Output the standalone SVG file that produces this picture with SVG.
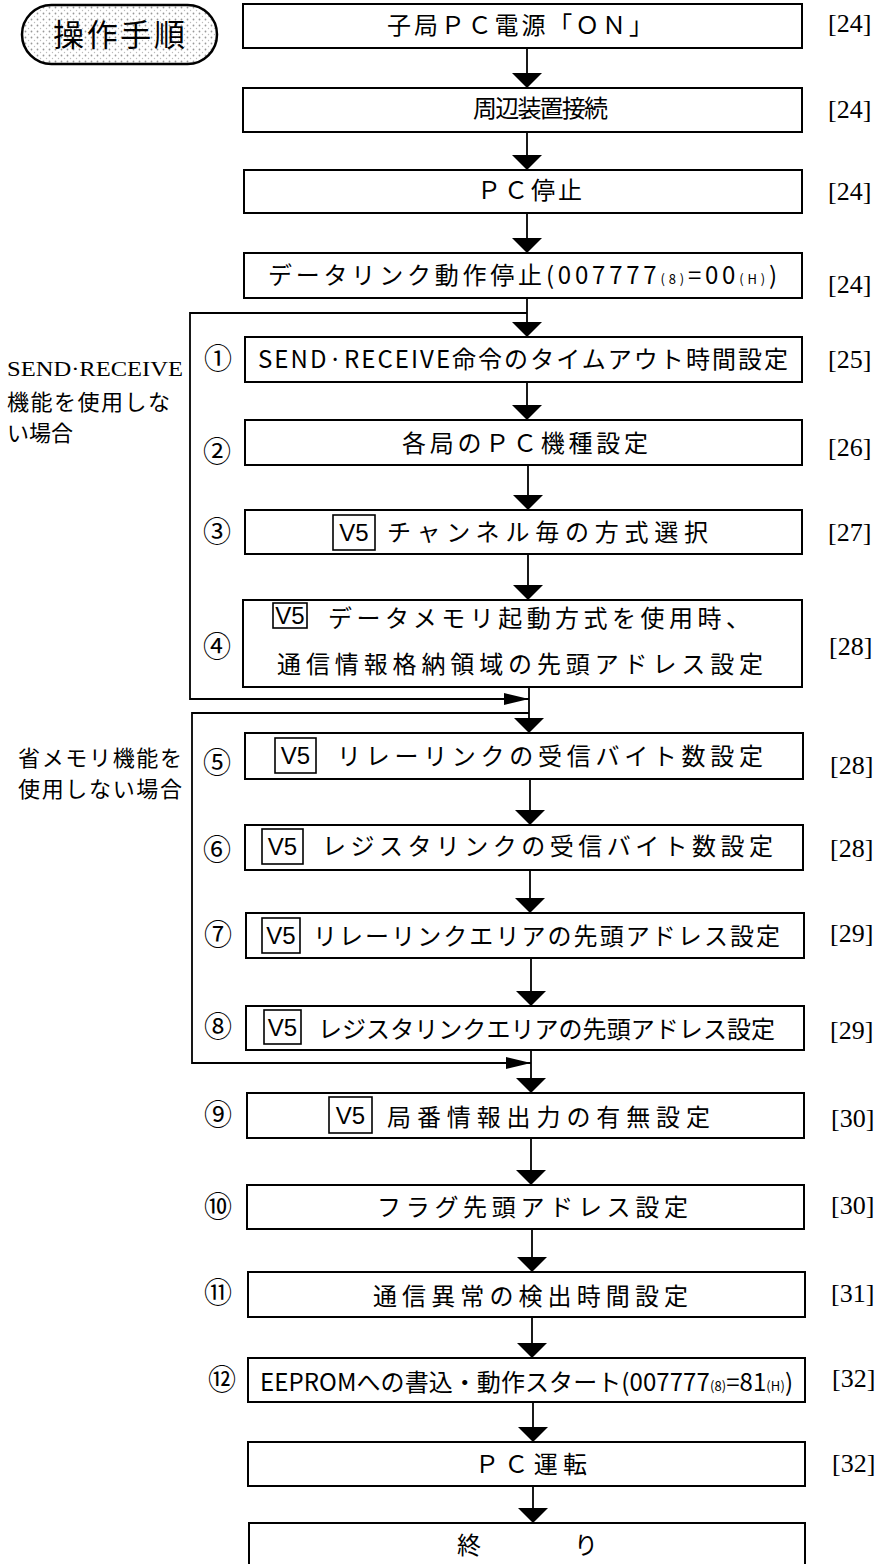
<svg xmlns="http://www.w3.org/2000/svg" width="881" height="1564" viewBox="0 0 881 1564">
<style>
.box{fill:#fff;stroke:#000;stroke-width:2}
.v5{fill:none;stroke:#000;stroke-width:1.6}
.t{font-family:"Noto Sans CJK JP","Noto Sans",sans-serif;font-size:24px;fill:#000}
.sub{font-size:13px}
.ref{font-family:"Liberation Serif","Noto Sans CJK JP",serif;font-size:26px;fill:#000}
.num{font-family:"Noto Sans CJK JP",serif;font-size:28px;fill:#000;text-anchor:middle}
.side{font-family:"Liberation Serif","Noto Sans CJK JP",serif;font-size:22px;fill:#000}
.v5t{font-family:"Liberation Sans",sans-serif;font-size:24px;fill:#000;text-anchor:middle}
.c{fill:none;stroke:#000;stroke-width:1.8}
</style>
<defs>
<marker id="ah" markerUnits="userSpaceOnUse" markerWidth="15" markerHeight="30" refX="15" refY="15" orient="auto" viewBox="0 0 15 30"><path d="M0,0 L15,15 L0,30 z" fill="#000"/></marker>
<marker id="ahs" markerUnits="userSpaceOnUse" markerWidth="25" markerHeight="12" refX="25" refY="6" orient="auto" viewBox="0 0 25 12"><path d="M0,0 L25,6 L0,12 z" fill="#000"/></marker>
<pattern id="dots" width="6" height="6" patternUnits="userSpaceOnUse"><rect width="6" height="6" fill="#fff"/><circle cx="1.5" cy="1.5" r="0.9" fill="#999"/><circle cx="4.5" cy="4.5" r="0.7" fill="#bbb"/></pattern>
</defs>

<g id="title">
<rect x="22" y="5" width="195" height="59" rx="29.5" fill="url(#dots)" stroke="#000" stroke-width="2.5"/>
<text x="119" y="46" font-family="Noto Sans CJK JP, sans-serif" font-size="31" text-anchor="middle" textLength="132" lengthAdjust="spacing">操作手順</text>
</g>

<g id="connectors">
<path class="c" d="M527,48 V88" marker-end="url(#ah)"/>
<path class="c" d="M527,132 V170" marker-end="url(#ah)"/>
<path class="c" d="M527,213 V253" marker-end="url(#ah)"/>
<path class="c" d="M527,298 V337" marker-end="url(#ah)"/>
<path class="c" d="M527,382 V420" marker-end="url(#ah)"/>
<path class="c" d="M528,465 V510" marker-end="url(#ah)"/>
<path class="c" d="M528,554 V600" marker-end="url(#ah)"/>
<path class="c" d="M529,687 V733" marker-end="url(#ah)"/>
<path class="c" d="M530,779 V825" marker-end="url(#ah)"/>
<path class="c" d="M530,870 V913" marker-end="url(#ah)"/>
<path class="c" d="M531,958 V1006" marker-end="url(#ah)"/>
<path class="c" d="M531,1050 V1093" marker-end="url(#ah)"/>
<path class="c" d="M531,1138 V1185" marker-end="url(#ah)"/>
<path class="c" d="M532,1229 V1272" marker-end="url(#ah)"/>
<path class="c" d="M532,1317 V1358" marker-end="url(#ah)"/>
<path class="c" d="M533,1402 V1442" marker-end="url(#ah)"/>
<path class="c" d="M533,1486 V1523" marker-end="url(#ah)"/>
<path class="c" d="M527,313 H190 V699 H529" marker-end="url(#ahs)"/>
<path class="c" d="M529,713 H192 V1063 H531" marker-end="url(#ahs)"/>
</g>

<g id="side-labels">
<text class="side" x="7" y="376" textLength="176" lengthAdjust="spacingAndGlyphs">SEND·RECEIVE</text>
<text class="side" x="7" y="410" textLength="163" lengthAdjust="spacing">機能を使用しな</text>
<text class="side" x="7" y="441">い場合</text>
<text class="side" x="18" y="766" textLength="164" lengthAdjust="spacing">省メモリ機能を</text>
<text class="side" x="18" y="797" textLength="164" lengthAdjust="spacing">使用しない場合</text>
</g>

<g id="n-power">
<rect class="box" x="243" y="4" width="559" height="44"/>
<text class="t" x="387" y="34" textLength="266" lengthAdjust="spacing">子局ＰＣ電源「ＯＮ」</text>
<text class="ref" x="828" y="32">[24]</text>
</g>
<g id="n-periph">
<rect class="box" x="243" y="88" width="559" height="44"/>
<text class="t" x="473" y="117" font-size="23" textLength="135" lengthAdjust="spacing">周辺装置接続</text>
<text class="ref" x="828" y="118">[24]</text>
</g>
<g id="n-pcstop">
<rect class="box" x="244" y="170" width="558" height="43"/>
<text class="t" x="477" y="199" textLength="105" lengthAdjust="spacing">ＰＣ停止</text>
<text class="ref" x="828" y="200">[24]</text>
</g>
<g id="n-dlstop">
<rect class="box" x="244" y="253" width="558" height="45"/>
<text class="t" x="268" y="284" textLength="509" lengthAdjust="spacing">データリンク動作停止(007777<tspan class="sub">(8)</tspan>=00<tspan class="sub">(H)</tspan>)</text>
<text class="ref" x="828" y="293">[24]</text>
</g>
<g id="n1">
<rect class="box" x="245" y="337" width="557" height="45"/>
<text class="num" x="218" y="369">①</text>
<text class="t" x="258" y="368" textLength="530" lengthAdjust="spacing">SEND·RECEIVE命令のタイムアウト時間設定</text>
<text class="ref" x="828" y="368">[25]</text>
</g>
<g id="n2">
<rect class="box" x="245" y="420" width="557" height="45"/>
<text class="num" x="217" y="462">②</text>
<text class="t" x="402" y="452" textLength="246" lengthAdjust="spacing">各局のＰＣ機種設定</text>
<text class="ref" x="828" y="456">[26]</text>
</g>
<g id="n3">
<rect class="box" x="245" y="510" width="557" height="44"/>
<text class="num" x="217" y="542">③</text>
<rect class="v5" x="333" y="515" width="42" height="35"/>
<text class="v5t" x="354" y="541">V5</text>
<text class="t" x="387" y="541" textLength="321" lengthAdjust="spacing">チャンネル毎の方式選択</text>
<text class="ref" x="828" y="541">[27]</text>
</g>
<g id="n4">
<rect class="box" x="243" y="600" width="559" height="87"/>
<text class="num" x="217" y="657">④</text>
<rect class="v5" x="273" y="603" width="34" height="25"/>
<text class="v5t" x="290" y="624">V5</text>
<text class="t" x="328" y="627" textLength="422" lengthAdjust="spacing">データメモリ起動方式を使用時、</text>
<text class="t" x="277" y="673" textLength="486" lengthAdjust="spacing">通信情報格納領域の先頭アドレス設定</text>
<text class="ref" x="829" y="655">[28]</text>
</g>
<g id="n5">
<rect class="box" x="245" y="733" width="558" height="46"/>
<text class="num" x="217" y="773">⑤</text>
<rect class="v5" x="275" y="738" width="41" height="35"/>
<text class="v5t" x="295.5" y="764">V5</text>
<text class="t" x="337" y="765" textLength="426" lengthAdjust="spacing">リレーリンクの受信バイト数設定</text>
<text class="ref" x="830" y="774">[28]</text>
</g>
<g id="n6">
<rect class="box" x="245" y="825" width="558" height="45"/>
<text class="num" x="217" y="860">⑥</text>
<rect class="v5" x="262" y="829" width="41" height="35"/>
<text class="v5t" x="282.5" y="855">V5</text>
<text class="t" x="322" y="855" textLength="451" lengthAdjust="spacing">レジスタリンクの受信バイト数設定</text>
<text class="ref" x="830" y="857">[28]</text>
</g>
<g id="n7">
<rect class="box" x="246" y="913" width="558" height="45"/>
<text class="num" x="218" y="945">⑦</text>
<rect class="v5" x="262" y="918" width="38" height="35"/>
<text class="v5t" x="281" y="944">V5</text>
<text class="t" x="313" y="945" textLength="467" lengthAdjust="spacing">リレーリンクエリアの先頭アドレス設定</text>
<text class="ref" x="830" y="942">[29]</text>
</g>
<g id="n8">
<rect class="box" x="246" y="1006" width="558" height="44"/>
<text class="num" x="218" y="1037">⑧</text>
<rect class="v5" x="264" y="1010" width="37" height="34"/>
<text class="v5t" x="282.5" y="1036">V5</text>
<text class="t" x="318" y="1038" textLength="457" lengthAdjust="spacing">レジスタリンクエリアの先頭アドレス設定</text>
<text class="ref" x="830" y="1039">[29]</text>
</g>
<g id="n9">
<rect class="box" x="247" y="1093" width="557" height="45"/>
<text class="num" x="218" y="1125">⑨</text>
<rect class="v5" x="329" y="1097" width="43" height="36"/>
<text class="v5t" x="350.5" y="1124">V5</text>
<text class="t" x="387" y="1126" textLength="323" lengthAdjust="spacing">局番情報出力の有無設定</text>
<text class="ref" x="831" y="1127">[30]</text>
</g>
<g id="n10">
<rect class="box" x="247" y="1185" width="557" height="44"/>
<text class="num" x="218" y="1217">⑩</text>
<text class="t" x="377" y="1216" textLength="311" lengthAdjust="spacing">フラグ先頭アドレス設定</text>
<text class="ref" x="831" y="1214">[30]</text>
</g>
<g id="n11">
<rect class="box" x="248" y="1272" width="557" height="45"/>
<text class="num" x="218" y="1303">⑪</text>
<text class="t" x="373" y="1305" textLength="315" lengthAdjust="spacing">通信異常の検出時間設定</text>
<text class="ref" x="831" y="1302">[31]</text>
</g>
<g id="n12">
<rect class="box" x="248" y="1358" width="557" height="44"/>
<text class="num" x="222" y="1390">⑫</text>
<text class="t" x="260" y="1391" textLength="533" lengthAdjust="spacing">EEPROMへの書込・動作スタート(007777<tspan class="sub">(8)</tspan>=81<tspan class="sub">(H)</tspan>)</text>
<text class="ref" x="832" y="1387">[32]</text>
</g>
<g id="n-pcrun">
<rect class="box" x="248" y="1442" width="557" height="44"/>
<text class="t" x="475" y="1473" textLength="112" lengthAdjust="spacing">ＰＣ運転</text>
<text class="ref" x="832" y="1472">[32]</text>
</g>
<g id="n-end">
<rect class="box" x="249" y="1523" width="556" height="60"/>
<text class="t" x="457" y="1554" textLength="141" lengthAdjust="spacing">終　　　り</text>
</g>
</svg>
